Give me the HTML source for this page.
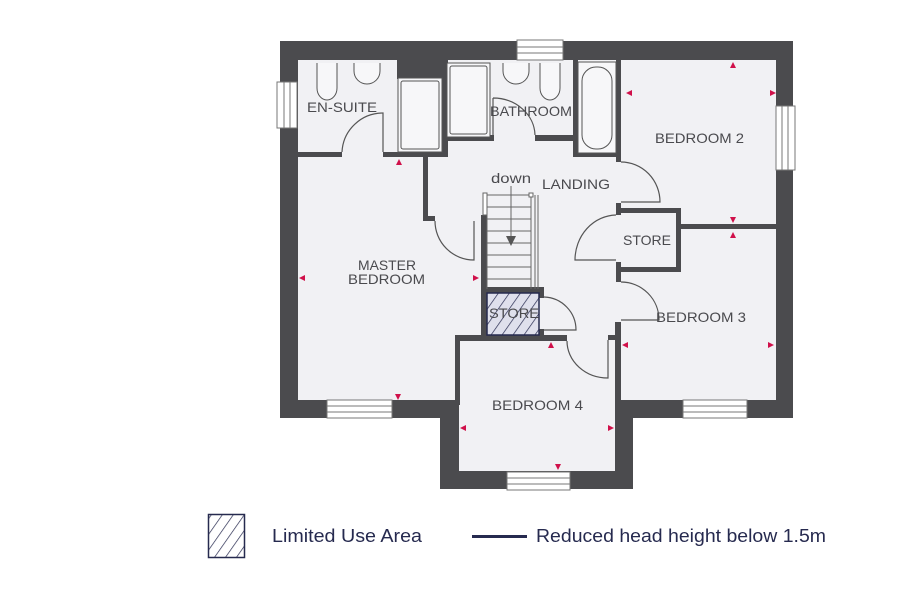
<!DOCTYPE html>
<html><head><meta charset="utf-8"><style>
html,body{margin:0;padding:0;background:#fff;}
svg{display:block;}
text{font-family:"Liberation Sans",sans-serif;fill:#4a4a4e;}
</style></head><body>
<svg width="900" height="600" viewBox="0 0 900 600" xmlns="http://www.w3.org/2000/svg">
<defs>
<pattern id="hatch2" width="9" height="9" patternUnits="userSpaceOnUse" patternTransform="rotate(35)">
<line x1="0" y1="0" x2="0" y2="9" stroke="#262a4f" stroke-width="1.4"/>
</pattern>
</defs>
<polygon points="280,41 793,41 793,418 633,418 633,489 440,489 440,418 280,418" fill="#4b4b4e"/>
<polygon points="298,60 776,60 776,400 615,400 615,471 459,471 459,400 298,400" fill="#f1f1f4"/>
<g fill="#4b4b4e">
<rect x="298" y="152" width="44" height="5"/>
<rect x="383" y="152" width="65" height="5"/>
<rect x="397" y="58" width="50" height="21"/>
<rect x="442" y="58" width="6" height="99"/>
<rect x="446" y="135" width="48" height="6"/>
<rect x="535" y="135" width="43" height="6"/>
<rect x="573" y="58" width="5" height="99"/>
<rect x="573" y="152" width="48" height="5"/>
<rect x="616" y="58" width="5" height="104"/>
<rect x="423" y="152" width="5" height="69"/>
<rect x="423" y="216" width="12" height="5"/>
<rect x="481" y="215" width="6" height="125"/>
<rect x="481" y="287" width="62" height="6"/>
<rect x="539" y="287" width="5" height="11"/>
<rect x="539" y="329" width="5" height="7"/>
<rect x="455" y="335" width="112" height="6"/>
<rect x="455" y="335" width="5" height="70"/>
<rect x="608" y="335" width="13" height="5"/>
<rect x="616" y="203" width="5" height="12"/>
<rect x="616" y="208" width="65" height="5"/>
<rect x="676" y="208" width="5" height="64"/>
<rect x="616" y="267" width="65" height="5"/>
<rect x="616" y="262" width="5" height="20"/>
<rect x="681" y="224" width="96" height="5"/>
<rect x="615" y="322" width="6" height="80"/>
</g>
<g fill="#fff" stroke="#777" stroke-width="1">
<rect x="517" y="40" width="46" height="20"/><line x1="517" y1="47" x2="563" y2="47"/><line x1="517" y1="53" x2="563" y2="53"/>
<rect x="277" y="82" width="20" height="46"/><line x1="284" y1="82" x2="284" y2="128"/><line x1="290" y1="82" x2="290" y2="128"/>
<rect x="776" y="106" width="19" height="64"/><line x1="782" y1="106" x2="782" y2="170"/><line x1="788" y1="106" x2="788" y2="170"/>
<rect x="327" y="400" width="65" height="18"/><line x1="327" y1="406" x2="392" y2="406"/><line x1="327" y1="412" x2="392" y2="412"/>
<rect x="683" y="400" width="64" height="18"/><line x1="683" y1="406" x2="747" y2="406"/><line x1="683" y1="412" x2="747" y2="412"/>
<rect x="507" y="472" width="63" height="18"/><line x1="507" y1="478" x2="570" y2="478"/><line x1="507" y1="484" x2="570" y2="484"/>
</g>
<g fill="#f7f7f9" stroke="#555" stroke-width="1">
<rect x="398" y="78" width="44" height="74"/><rect x="401" y="81" width="38" height="68" rx="2"/>
<rect x="447" y="63" width="43" height="74"/><rect x="450" y="66" width="37" height="68" rx="2"/>
<rect x="578" y="62" width="38" height="91"/><rect x="582" y="67" width="30" height="82" rx="14"/>
<path d="M317,63 v25 a10,12 0 0 0 20,0 v-25"/>
<path d="M354,63 v8 a13,13 0 0 0 26,0 v-8"/>
<path d="M503,63 v8 a13,13 0 0 0 26,0 v-8"/>
<path d="M540,63 v25 a10,12 0 0 0 20,0 v-25"/>
</g>
<g fill="none" stroke="#555" stroke-width="1.2">
<path d="M342,152 A41,41 0 0 1 383,113 V152"/>
<path d="M493,98 V135 M493,98 A42,38 0 0 1 535,135"/>
<path d="M435,221 A39,39 0 0 0 474,260 V221"/>
<path d="M621,162 A39,40 0 0 1 660,202 H621"/>
<path d="M616,215 A42,45 0 0 0 575,260 H616"/>
<path d="M621,282 A38,38 0 0 1 659,320 H621"/>
<path d="M544,297 A33,33 0 0 1 576,330 H544"/>
<path d="M567,341 A41,37 0 0 0 608,378 V340"/>
</g>
<g stroke="#666" stroke-width="1" fill="none">
<line x1="487" y1="195" x2="487" y2="289"/>
<line x1="531" y1="195" x2="531" y2="289"/>
<line x1="535" y1="195" x2="535" y2="289"/>
<line x1="538" y1="195" x2="538" y2="289"/>
<line x1="487" y1="195" x2="531" y2="195"/><line x1="487" y1="207" x2="531" y2="207"/><line x1="487" y1="219" x2="531" y2="219"/><line x1="487" y1="231" x2="531" y2="231"/><line x1="487" y1="243" x2="531" y2="243"/><line x1="487" y1="255" x2="531" y2="255"/><line x1="487" y1="267" x2="531" y2="267"/><line x1="487" y1="279" x2="531" y2="279"/>
<line x1="511" y1="186" x2="511" y2="240"/>
</g>
<rect x="483" y="193" width="4" height="22" fill="#fff" stroke="#666"/>
<rect x="529" y="193" width="4" height="4" fill="#fff" stroke="#666"/>
<polygon points="506,236 516,236 511,246" fill="#555"/>
<rect x="487" y="293" width="52" height="42" fill="#dfe0ec" stroke="#262a4f" stroke-width="1.5"/>
<rect x="487" y="293" width="52" height="42" fill="url(#hatch2)"/>
<g font-size="14">
<text x="307" y="112" textLength="70" lengthAdjust="spacingAndGlyphs">EN-SUITE</text>
<text x="490" y="116" textLength="82" lengthAdjust="spacingAndGlyphs">BATHROOM</text>
<text x="655" y="143" textLength="89" lengthAdjust="spacingAndGlyphs">BEDROOM 2</text>
<text x="542" y="189" textLength="68" lengthAdjust="spacingAndGlyphs">LANDING</text>
<text x="491" y="183" textLength="40" lengthAdjust="spacingAndGlyphs">down</text>
<text x="623" y="245" textLength="48" lengthAdjust="spacingAndGlyphs">STORE</text>
<text x="358" y="270" textLength="58" lengthAdjust="spacingAndGlyphs">MASTER</text>
<text x="348" y="284" textLength="77" lengthAdjust="spacingAndGlyphs">BEDROOM</text>
<text x="656" y="322" textLength="90" lengthAdjust="spacingAndGlyphs">BEDROOM 3</text>
<text x="489" y="318" textLength="50" lengthAdjust="spacingAndGlyphs">STORE</text>
<text x="492" y="410" textLength="91" lengthAdjust="spacingAndGlyphs">BEDROOM 4</text>
</g>
<g fill="#d0104a">
<polygon points="396,165 399,159 402,165"/>
<polygon points="730,68 733,62 736,68"/>
<polygon points="626,93 632,90 632,96"/>
<polygon points="770,90 770,96 776,93"/>
<polygon points="730,217 733,223 736,217"/>
<polygon points="730,238 733,232 736,238"/>
<polygon points="299,278 305,275 305,281"/>
<polygon points="473,275 473,281 479,278"/>
<polygon points="395,394 398,400 401,394"/>
<polygon points="548,348 551,342 554,348"/>
<polygon points="622,345 628,342 628,348"/>
<polygon points="768,342 768,348 774,345"/>
<polygon points="460,428 466,425 466,431"/>
<polygon points="608,425 608,431 614,428"/>
<polygon points="555,464 558,470 561,464"/>
</g>
<rect x="208.5" y="514.5" width="36" height="43" fill="#fff" stroke="#262a4f" stroke-width="1.5"/>
<rect x="209" y="515" width="35" height="42" fill="url(#hatch2)"/>
<text x="272" y="542" font-size="18" textLength="150" lengthAdjust="spacingAndGlyphs" style="fill:#262a4f">Limited Use Area</text>
<rect x="472" y="535" width="55" height="3" fill="#262a4f"/>
<text x="536" y="542" font-size="18" textLength="290" lengthAdjust="spacingAndGlyphs" style="fill:#262a4f">Reduced head height below 1.5m</text>
</svg>
</body></html>
